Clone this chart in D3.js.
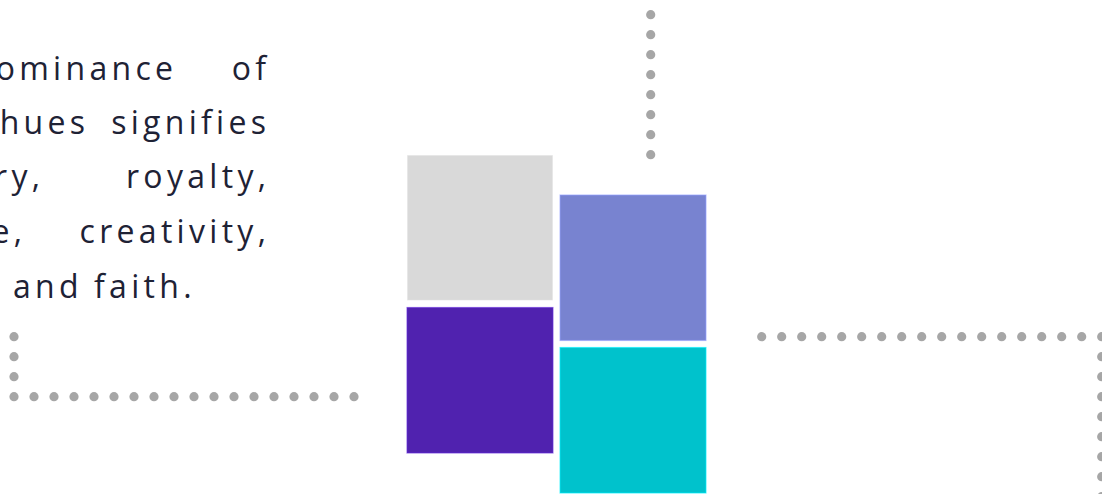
<!DOCTYPE html>
<html>
<head>
<meta charset="utf-8">
<script src="https://cdn.jsdelivr.net/npm/d3@7"></script>
<style>
  html, body { margin: 0; padding: 0; background: #ffffff; overflow: hidden; }
  svg { display: block; }
</style>
</head>
<body>
<svg id="chart" width="1102" height="494"></svg>
<script>
// ---- data ----
const squareNames  = ["Gray", "Purple", "Periwinkle", "Teal"];
const squareCols   = [0, 0, 1, 1];
const squareRows   = [0, 1, 0, 1];
const squareColors = ["#D9D9D9", "#5022AF", "#7883D0", "#00C2CC"];

const textLines = [
  ["dominance", "of"],
  ["hues", "signifies"],
  ["luxury,", "royalty,"],
  ["peace,", "creativity,"],
  ["and", "faith."]
];

// dotted guide paths: [startX, startY, stepX, stepY, count]
const dotRuns = [
  [14, 336.7, 0, 20, 4],
  [34, 396.7, 20, 0, 17],
  [650.7, 14.7, 0, 20, 8],
  [761.7, 336.7, 20, 0, 18],
  [1101.7, 356.7, 0, 20, 8]
];

// ---- drawing ----
const svg = d3.select("#chart");

// dots
const dots = dotRuns.flatMap(([x0, y0, dx, dy, n]) =>
  d3.range(n).map(i => ({ x: x0 + dx * i, y: y0 + dy * i })));
svg.append("g").selectAll("circle").data(dots).join("circle")
  .attr("cx", d => d.x).attr("cy", d => d.y).attr("r", 4.6)
  .attr("fill", "#A6A6A6");

// squares
const xBand = d3.scaleBand().domain([0, 1]).range([407, 706]).paddingInner(0.046);
const yBand = d3.scaleBand().domain([0, 1]).range([0, 298]).paddingInner(0.046);
const colOffset = d3.scaleOrdinal().domain([0, 1]).range([155, 195]);

svg.append("g").selectAll("rect").data(squareNames).join("rect")
  .attr("x", (d, i) => xBand(squareCols[i]))
  .attr("y", (d, i) => colOffset(squareCols[i]) + yBand(squareRows[i]))
  .attr("width", xBand.bandwidth())
  .attr("height", yBand.bandwidth())
  .attr("fill", (d, i) => squareColors[i])
  .attr("stroke", (d, i) => d3.color(squareColors[i]).brighter(0.6))
  .attr("stroke-opacity", 0.6)
  .attr("stroke-width", 1.2);

// text
const LS = 4.3;
const baselines = [80, 134, 188, 243, 298];
const firstEnds = [173, 85, 40, 22, null];
const tg = svg.append("g")
  .attr("font-family", "'Open Sans', Lato, sans-serif")
  .attr("font-size", 32)
  .attr("letter-spacing", LS + "px")
  .attr("fill", "#1E2235");

textLines.forEach((words, i) => {
  if (firstEnds[i] !== null) {
    tg.append("text").attr("x", firstEnds[i] + LS).attr("y", baselines[i])
      .attr("text-anchor", "end").text(words[0]);
    tg.append("text").attr("x", 266 + LS).attr("y", baselines[i])
      .attr("text-anchor", "end").text(words[1]);
  } else {
    tg.append("text").attr("x", 13).attr("y", baselines[i])
      .attr("text-anchor", "start").text(words[0]);
    tg.append("text").attr("x", 94).attr("y", baselines[i])
      .attr("text-anchor", "start").text(words[1]);
  }
});
</script>
</body>
</html>
